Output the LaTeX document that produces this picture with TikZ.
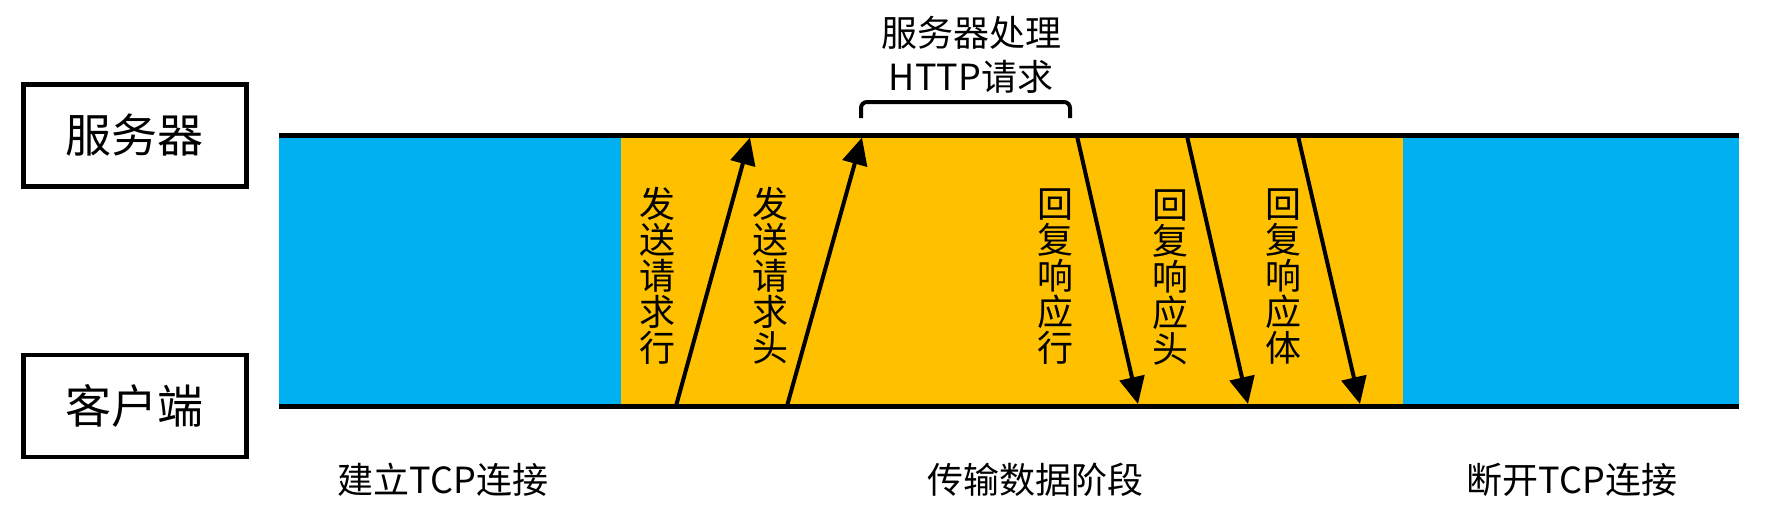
\documentclass[tikz,border=0pt]{standalone}
\usepackage{fontspec}
\setmainfont{Noto Sans CJK SC}
\usetikzlibrary{arrows.meta}
\definecolor{bandblue}{HTML}{00B0F0}
\definecolor{bandorange}{HTML}{FFC000}
\tikzset{
  rolebox/.style={draw=black, line width=2.35pt, minimum width=111.5pt, minimum height=51pt, inner sep=0pt, font=\fontsize{23}{23}\selectfont},
  bandline/.style={line width=2.5pt},
  msg/.style={line width=2pt, -{Triangle[length=13.5pt,width=12.5pt]}, shorten >=0pt},
  vlabel/.style={align=center, inner sep=0pt, font=\fontsize{18}{18}\selectfont},
  phase/.style={inner sep=0pt, font=\fontsize{18}{22}\selectfont, align=center},
  brace/.style={line width=2pt, rounded corners=3pt}
}
\begin{document}
\begin{tikzpicture}[x=0.5pt,y=-0.5pt]
\useasboundingbox (0,0) rectangle (1768,530);
% bands
\fill[bandblue] (279,135.5) rectangle (621,406.5);
\fill[bandorange] (621,135.5) rectangle (1403,406.5);
\fill[bandblue] (1403,135.5) rectangle (1739,406.5);
\coordinate (tl) at (279,135.5);
\coordinate (tr) at (1739,135.5);
\coordinate (bl) at (279,406.5);
\coordinate (br) at (1739,406.5);
\draw[bandline] (tl) -- (tr);
\draw[bandline] (bl) -- (br);
% role boxes
\node[rolebox] (server) at (134.8,135.3) {服务器};
\node[rolebox] (client) at (134.8,406) {客户端};
% message endpoints
\coordinate (s1) at (676,406);  \coordinate (e1) at (750,137.5);
\coordinate (s2) at (787,406);  \coordinate (e2) at (862,137.5);
\coordinate (s3) at (1077,136); \coordinate (e3) at (1138,404);
\coordinate (s4) at (1187,136); \coordinate (e4) at (1248,404);
\coordinate (s5) at (1298,136); \coordinate (e5) at (1360,404);
\draw[msg] (s1) -- (e1);
\draw[msg] (s2) -- (e2);
\draw[msg] (s3) -- (e3);
\draw[msg] (s4) -- (e4);
\draw[msg] (s5) -- (e5);
% vertical labels
\node[vlabel] (l1) at (657,276) {发\\送\\请\\求\\行};
\node[vlabel] (l2) at (770,276) {发\\送\\请\\求\\头};
\node[vlabel] (l3) at (1055,277) {回\\复\\响\\应\\行};
\node[vlabel] (l4) at (1170,277) {回\\复\\响\\应\\头};
\node[vlabel] (l5) at (1283,277) {回\\复\\响\\应\\体};
% bracket and processing label
\coordinate (b1) at (861,118);
\coordinate (b2) at (861,102);
\coordinate (b3) at (1070,102);
\coordinate (b4) at (1070,118);
\draw[brace] (b1) -- (b2) -- (b3) -- (b4);
\node[phase] (proc) at (971,55) {服务器处理\\HTTP请求};
% phase labels
\node[phase] (p1) at (443,480) {建立TCP连接};
\node[phase] (p2) at (1035,480) {传输数据阶段};
\node[phase] (p3) at (1572,480) {断开TCP连接};
\end{tikzpicture}
\end{document}
